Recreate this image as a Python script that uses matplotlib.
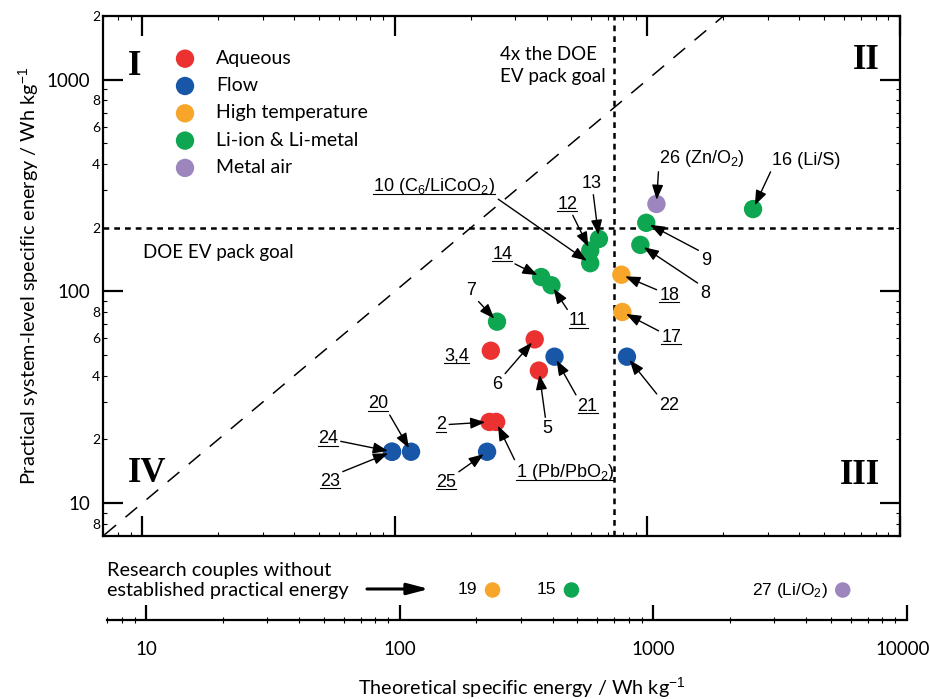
import matplotlib
matplotlib.use('Agg')
import numpy as np
import matplotlib.pyplot as plt
from matplotlib.lines import Line2D
from matplotlib.ticker import LogLocator, FuncFormatter, NullFormatter

plt.rcParams['font.family'] = ['Lato', 'DejaVu Sans']
plt.rcParams['mathtext.fontset'] = 'custom'
plt.rcParams['mathtext.rm'] = 'Liberation Sans'
plt.rcParams['mathtext.it'] = 'Liberation Sans:italic'
plt.rcParams['mathtext.bf'] = 'Liberation Sans:bold'

# couples with a practical system-level value (Wh/kg)
couples = ['1', '2', '3,4', '5', '6', '7', '8', '9', '10', '11', '12', '13',
           '14', '16', '17', '18', '20', '21', '22', '23', '24', '25', '26']
texts = ['1 (Pb/PbO$_2$)', '2', '3,4', '5', '6', '7', '8', '9',
         '10 (C$_6$/LiCoO$_2$)', '11', '12', '13', '14', '16 (Li/S)', '17',
         '18', '20', '21', '22', '23', '24', '25', '26 (Zn/O$_2$)']
theoretical = [252, 237, 240, 372, 358, 254, 938, 990, 594, 417, 594, 643,
               380, 2620, 796, 789, 116, 429, 830, 97.5, 97.5, 232, 1086]
practical = [24.2, 24.2, 52.5, 42.3, 59.4, 72, 166, 211, 136, 107, 156, 177,
             117, 245, 80, 120, 17.5, 49.2, 49.2, 17.5, 17.5, 17.5, 259]
chemistry = ['Aqueous', 'Aqueous', 'Aqueous', 'Aqueous', 'Aqueous',
             'Li-ion & Li-metal', 'Li-ion & Li-metal', 'Li-ion & Li-metal',
             'Li-ion & Li-metal', 'Li-ion & Li-metal', 'Li-ion & Li-metal',
             'Li-ion & Li-metal', 'Li-ion & Li-metal', 'Li-ion & Li-metal',
             'High temperature', 'High temperature', 'Flow', 'Flow', 'Flow',
             'Flow', 'Flow', 'Flow', 'Metal air']

# research couples without a practical value
research_texts = ['19', '15', '27 (Li/O$_2$)']
research_theoretical = [232, 475, 5580]
research_chemistry = ['High temperature', 'Li-ion & Li-metal', 'Metal air']

doe_goal = 200
four_x_goal = 740

categories = ['Aqueous', 'Flow', 'High temperature', 'Li-ion & Li-metal',
              'Metal air']
colors = {'Aqueous': '#ec3230', 'Flow': '#1857a7', 'High temperature': '#f7a629',
          'Li-ion & Li-metal': '#0ea651', 'Metal air': '#9d86be'}

# label placement: offset in pixels (dx, dy up), arrow start on text box, underline
layout = {
    '1': (69, -55.5, (0, 1), True),
    '2': (-48, -7.5, (0.5, 0.5), True),
    '3,4': (-34, -10, None, True),
    '5': (8, -62.5, (0.5, 0.5), False),
    '6': (-37, -50, (1, 1), False),
    '7': (-26, 27, (1, 0), False),
    '8': (65, -53, (0, 1), False),
    '9': (60, -42, (0, 1), False),
    '10': (-156, 72, (1, 0), True),
    '11': (27, -40, (0, 1), True),
    '12': (-23, 42, (0.5, 0.5), True),
    '13': (-7, 51, (0.5, 0.5), False),
    '14': (-39, 18.5, (1, 0), True),
    '16': (53, 44, (0, 0), False),
    '17': (49, -30, (0.5, 0.5), True),
    '18': (48, -25, (0.5, 0.5), True),
    '20': (-33, 43.5, (1, 0), True),
    '21': (33, -54, (0, 1), True),
    '22': (42, -53, (0, 1), False),
    '23': (-62, -34, (1, 1), True),
    '24': (-64, 8.5, (0.5, 0.5), True),
    '25': (-41, -35, (1, 1), True),
    '26': (45, 41, (0, 0), False),
}

fig = plt.figure(figsize=(9.3, 6.99), dpi=100)
ax = fig.add_axes([103 / 930, 163 / 699, 797 / 930, 520 / 699])
ax.set_xscale('log')
ax.set_yscale('log')
ax.set_xlim(7, 10000)
ax.set_ylim(7, 2000)

for s in ax.spines.values():
    s.set_linewidth(1.6)

ax.xaxis.set_major_locator(LogLocator(base=10, numticks=10))
ax.xaxis.set_minor_locator(LogLocator(base=10, subs=np.arange(2, 10), numticks=20))
ax.yaxis.set_major_locator(LogLocator(base=10, numticks=10))
ax.yaxis.set_minor_locator(LogLocator(base=10, subs=np.arange(2, 10), numticks=20))
ax.xaxis.set_major_formatter(NullFormatter())
ax.xaxis.set_minor_formatter(NullFormatter())
ax.yaxis.set_major_formatter(FuncFormatter(lambda v, p: '%g' % v))


def minor_label(v, p):
    m = int(round(v / 10 ** np.floor(np.log10(v) + 1e-9)))
    return str(m) if m in (2, 4, 6, 8) else ''


ax.yaxis.set_minor_formatter(FuncFormatter(minor_label))
ax.tick_params(which='major', direction='in', length=14.5, width=1.6,
               top=True, right=True, labelbottom=False)
ax.tick_params(which='minor', direction='in', length=3, width=0.8,
               top=True, right=True, labelbottom=False)
ax.tick_params(axis='y', which='major', labelsize=13.5, pad=9)
ax.tick_params(axis='y', which='minor', labelsize=10, pad=2)

# reference lines
parity = np.array([1, 10000])
ax.plot(parity, parity, color='k', lw=1.1, ls=(0, (10, 8)), zorder=1)
ax.axhline(doe_goal, color='k', lw=1.8, ls=(0, (2.3, 2)), zorder=1)
ax.axvline(four_x_goal, color='k', lw=1.8, ls=(0, (2.3, 2)), zorder=1)

x = np.array(theoretical)
y = np.array(practical)
chem = np.array(chemistry)
for cat in categories:
    m = chem == cat
    ax.scatter(x[m], y[m], s=175, color=colors[cat], edgecolors='none',
               zorder=3, label=cat)

ax.legend(loc='upper left', bbox_to_anchor=(0.0907, 0.935), frameon=False,
          fontsize=14, handlelength=1.0, handletextpad=1.1,
          labelspacing=0.53, borderpad=0, borderaxespad=0, scatterpoints=1)

ax.text(0.05, 0.546, 'DOE EV pack goal', transform=ax.transAxes,
        ha='left', va='center', fontsize=13.5)
ax.text(0.498, 0.905, '4x the DOE\nEV pack goal', transform=ax.transAxes,
        ha='left', va='center', fontsize=13.5, linespacing=1.35)

roman = dict(fontsize=25, family='Liberation Serif', weight='bold',
             ha='center', va='center', transform=ax.transAxes)
ax.text(0.040, 0.902, 'I', **roman)
ax.text(0.958, 0.915, 'II', **roman)
ax.text(0.950, 0.117, 'III', **roman)
ax.text(0.055, 0.121, 'IV', **roman)

anns = []
for name, txt, xv, yv in zip(couples, texts, theoretical, practical):
    dx, dy, rel, under = layout[name]
    kw = {}
    if rel is not None:
        kw['arrowprops'] = dict(arrowstyle='-|>,head_length=0.45,head_width=0.17',
                                color='k', lw=1.0, mutation_scale=20,
                                shrinkA=0, shrinkB=3, relpos=rel)
    a = ax.annotate(txt, xy=(xv, yv), xytext=(dx, dy), textcoords='offset pixels',
                    ha='center', va='baseline', fontsize=13,
                    family='Liberation Sans', zorder=4, **kw)
    anns.append((a, xv, yv, dy, under))

# bottom strip with research couples
ax2 = fig.add_axes([107 / 930, 79 / 699, 800 / 930, 60 / 699])
ax2.set_xscale('log')
ax2.set_xlim(7, 10000)
ax2.set_ylim(0, 1)
for k in ['top', 'left', 'right']:
    ax2.spines[k].set_visible(False)
ax2.spines['bottom'].set_linewidth(1.6)
ax2.patch.set_alpha(0)
ax2.set_yticks([])
ax2.xaxis.set_major_locator(LogLocator(base=10, numticks=10))
ax2.xaxis.set_minor_locator(LogLocator(base=10, subs=np.arange(2, 10), numticks=20))
# the last label sits at the figure edge, it is drawn separately below
ax2.xaxis.set_major_formatter(FuncFormatter(lambda v, p: '%g' % v if v < 9999 else ''))
ax2.xaxis.set_minor_formatter(NullFormatter())
ax2.tick_params(axis='x', which='major', direction='in', length=11, width=1.6,
                labelsize=13.5, pad=15)
ax2.tick_params(axis='x', which='minor', direction='inout', length=4, width=0.8)
ax2.annotate('10000', xy=(10000, 0), xycoords=('data', 'axes fraction'),
             xytext=(-4, -20.8), textcoords='offset pixels', ha='center',
             va='top', fontsize=13.5)

ax2.scatter(research_theoretical, [0.5] * len(research_theoretical), s=125,
            color=[colors[c] for c in research_chemistry], edgecolors='none',
            zorder=3)
for txt, xv in zip(research_texts, research_theoretical):
    ax2.annotate(txt, xy=(xv, 0.5), xytext=(-15, 0), textcoords='offset pixels',
                 ha='right', va='center', fontsize=12.5, family='Liberation Sans')
ax2.text(0.0, 0.66, 'Research couples without\nestablished practical energy',
         transform=ax2.transAxes, ha='left', va='center', fontsize=14.3,
         linespacing=1.2)
ax2.annotate('', xy=(0.4025, 0.517), xytext=(0.325, 0.517),
             xycoords='axes fraction',
             arrowprops=dict(arrowstyle='-|>,head_length=0.65,head_width=0.17',
                             color='k', lw=2.2, mutation_scale=20,
                             shrinkA=0, shrinkB=0))

fig.text(29 / 930, 1 - 276 / 699,
         'Practical system-level specific energy / Wh kg$^{-1}$',
         rotation=90, ha='center', va='center', fontsize=14.3)
fig.text(522 / 930, 1 - 688 / 699, 'Theoretical specific energy / Wh kg$^{-1}$',
         ha='center', va='center', fontsize=14.3)

# underline the marked labels
fig.canvas.draw()
renderer = fig.canvas.get_renderer()
inv = fig.transFigure.inverted()
for a, xv, yv, dy, under in anns:
    if not under:
        continue
    bb = matplotlib.text.Text.get_window_extent(a, renderer)
    yb = ax.transData.transform((xv, yv))[1] + dy - 2.5
    p0 = inv.transform((bb.x0, yb))
    p1 = inv.transform((bb.x1, yb))
    fig.add_artist(Line2D([p0[0], p1[0]], [p0[1], p1[1]], color='k', lw=0.8,
                          transform=fig.transFigure))

fig.savefig('out.png', dpi=100)
